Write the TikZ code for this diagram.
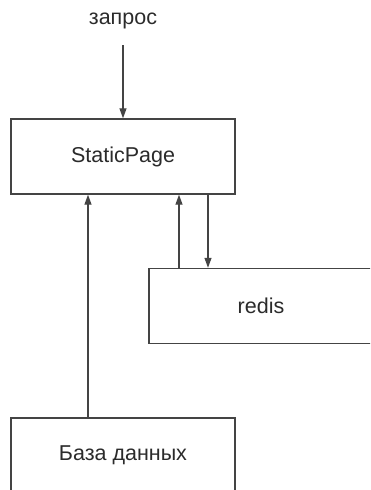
\documentclass[tikz,border=0pt]{standalone}
\usepackage{fontspec}
\setmainfont{Liberation Sans}
\usetikzlibrary{arrows.meta}
\definecolor{ln}{HTML}{444444}
\definecolor{tx}{HTML}{2b2b2b}
\begin{document}
\begin{tikzpicture}[x=1pt,y=-1pt,
  box/.style={draw=ln,line width=1.4pt,fill=white,minimum width=224pt,minimum height=75pt,inner sep=0pt,text=tx,font=\fontsize{21.5}{26}\selectfont},
  arr/.style={draw=ln,line width=1.2pt,-{Triangle[length=10pt,width=7pt]}},
  lbl/.style={text=tx,font=\fontsize{21.5}{26}\selectfont,inner sep=0pt}]
\useasboundingbox (0,0) rectangle (370,490);
\clip (0,0) rectangle (370,490);
\node[box] (static) at (123,156.5) {StaticPage};
\node[box] (redis) at (261,306) {redis};
\node[box] (db) at (123,455.5) {База данных};
\node[lbl] (q) at (123,21) {запрос};
\coordinate (qs) at (123,45);
\draw[arr] (qs) -- (static.north);
\draw[arr] (db.north -| 88,0) -- (static.south -| 88,0);
\draw[arr] (redis.north -| 179,0) -- (static.south -| 179,0);
\draw[arr] (static.south -| 208,0) -- (redis.north -| 208,0);
\end{tikzpicture}
\end{document}
